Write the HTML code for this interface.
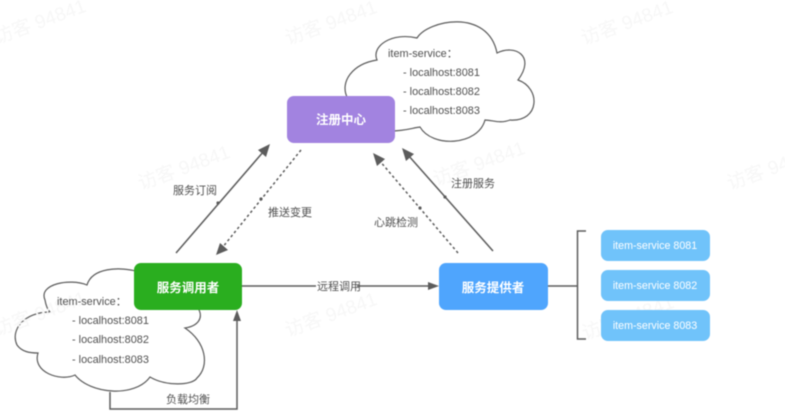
<!DOCTYPE html>
<html>
<head>
<meta charset="utf-8">
<style>
html,body{margin:0;padding:0;background:#fff;width:785px;height:416px;overflow:hidden}
svg{display:block;filter:blur(0.45px)}
text{font-family:"Liberation Sans","Noto Sans CJK SC",sans-serif}
.wm{font-size:19px;fill:#f7f7f7}
.lbl{font-size:11px;fill:#505050}
.cl{font-size:10.9px;fill:#505050}
.node{font-size:12.5px;font-weight:700;fill:#fff;text-anchor:middle}
.svc{font-size:10.7px;fill:#fff;text-anchor:middle}
.ln{stroke:#5c5c5c;stroke-width:1.5;fill:none}
.ds{stroke:#5c5c5c;stroke-width:1.5;fill:none;stroke-dasharray:2.6 2.6}
.ah{fill:#5c5c5c}
.cloud{fill:#fff;stroke:#5c5c5c;stroke-width:1.2}
</style>
</head>
<body>
<svg width="785" height="416" viewBox="0 0 785 416" xmlns="http://www.w3.org/2000/svg">
<rect width="785" height="416" fill="#fff"/>

<!-- top cloud -->
<path class="cloud" d="M347 97 C340 82 352 64 377 60 C371 46 392 32 417 38 C428 20 488 8 497 53 C515 44 536 56 518 80 C541 88 540 122 510 120 C500 124 492 120 485 120 C478 146 432 148 420 127 C412 128 405 131 390 131 L347 97Z"/>
<!-- left cloud -->
<path class="cloud" d="M140 272 C118 266 92 268 87 285 C70 278 38 284 45 300 C46 306 48 310 50 312 C24 312 10 330 17 345 C22 352 30 353 38 353 C32 372 60 382 75 375 C90 394 135 398 150 377 C165 386 192 386 197 378 C210 366 206 342 185 328 C198 326 204 318 198 308 L140 272Z"/>

<g class="wm">
<text transform="translate(-3 44) rotate(-20)">访客 94841</text>
<text transform="translate(288 45) rotate(-20)">访客 94841</text>
<text transform="translate(584 45) rotate(-20)">访客 94841</text>
<text transform="translate(141 190) rotate(-20)">访客 94841</text>
<text transform="translate(436 186) rotate(-20)">访客 94841</text>
<text transform="translate(730 190) rotate(-20)">访客 94841</text>
<text transform="translate(-3 336) rotate(-20)">访客 94841</text>
<text transform="translate(288 337) rotate(-20)">访客 94841</text>
<text transform="translate(585 340) rotate(-20)">访客 94841</text>
</g>

<!-- connectors -->
<path class="ln" d="M176 253 L264 151"/>
<path class="ah" d="M270 144 L266 157 L258 150Z"/>
<circle cx="218" cy="203" r="1.6" fill="#5c5c5c"/>
<path class="ds" d="M301 150 L222 248"/>
<path class="ah" d="M216 255 L220 243 L228 250Z"/>
<circle cx="261" cy="199" r="1.6" fill="#5c5c5c"/>
<path class="ds" d="M458 253 L379 160"/>
<path class="ah" d="M373 153 L385 159 L377 166Z"/>
<circle cx="420" cy="208" r="1.6" fill="#5c5c5c"/>
<path class="ln" d="M493 251 L408 155"/>
<path class="ah" d="M402 148 L414 154 L406 161Z"/>
<circle cx="445" cy="197" r="1.6" fill="#5c5c5c"/>
<path class="ln" d="M242 286 L316 286"/>
<path class="ln" d="M357 286 L432 286"/>
<path class="ah" d="M439 286 L428 282 L428 290Z"/>
<path class="ln" d="M110 392 L110 409 L237 409 L237 316"/>
<path class="ah" d="M237 310 L233 321 L241 321Z"/>
<path class="ln" d="M548 286 L577 286"/>
<path class="ln" d="M586 231 L577.5 231 L577.5 339 L586 339"/>

<!-- nodes -->
<rect x="287" y="96" width="108" height="47" rx="7" fill="#a283e0"/>
<text class="node" x="341" y="124">注册中心</text>
<rect x="134" y="263" width="108" height="47" rx="7" fill="#2aae1f"/>
<text class="node" x="188" y="292">服务调用者</text>
<rect x="439" y="263" width="109" height="47" rx="7" fill="#4fa5fd"/>
<text class="node" x="493" y="292">服务提供者</text>

<rect x="601" y="230" width="109" height="31" rx="7" fill="#70c3fa"/>
<text class="svc" x="655" y="249">item-service 8081</text>
<rect x="601" y="270" width="109" height="31" rx="7" fill="#70c3fa"/>
<text class="svc" x="655" y="289">item-service 8082</text>
<rect x="601" y="310" width="109" height="31" rx="7" fill="#70c3fa"/>
<text class="svc" x="655" y="329">item-service 8083</text>

<!-- cloud text -->
<g class="cl">
<text x="388" y="57">item-service：</text>
<text x="403" y="76">- localhost:8081</text>
<text x="403" y="95">- localhost:8082</text>
<text x="403" y="114">- localhost:8083</text>
<text x="57" y="305">item-service：</text>
<text x="72" y="324">- localhost:8081</text>
<text x="72" y="343">- localhost:8082</text>
<text x="72" y="363">- localhost:8083</text>
</g>

<!-- labels -->
<g class="lbl">
<text x="173" y="194">服务订阅</text>
<text x="268" y="216">推送变更</text>
<text x="374" y="226">心跳检测</text>
<text x="451" y="187">注册服务</text>
<text x="317" y="290">远程调用</text>
<text x="166" y="403">负载均衡</text>
</g>
</svg>
</body>
</html>
